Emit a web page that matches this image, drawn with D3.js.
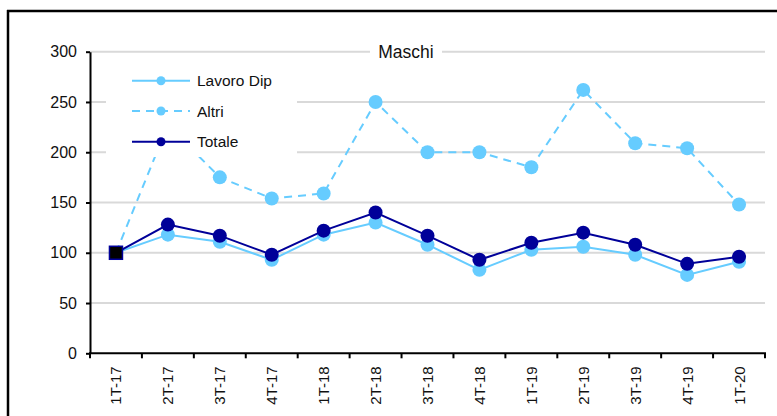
<!DOCTYPE html>
<html>
<head>
<meta charset="utf-8">
<script src="https://cdn.jsdelivr.net/npm/d3@7/dist/d3.min.js"></script>
<style>
  html, body { margin: 0; padding: 0; background: #fff; }
  svg { display: block; font-family: "Liberation Sans", Arial, sans-serif; }
</style>
</head>
<body>
<svg id="chart" width="777" height="416"></svg>
<script>
const categories = ["1T-17","2T-17","3T-17","4T-17","1T-18","2T-18","3T-18","4T-18","1T-19","2T-19","3T-19","4T-19","1T-20"];
const lavoroDip = [100, 118, 111, 93, 118, 130, 108, 83, 103, 106, 98, 78, 91];
const altri     = [100, 227, 175, 154, 159, 250, 200, 200, 185, 262, 209, 204, 148];
const totale    = [100, 128, 117, 98, 122, 140, 117, 93, 110, 120, 108, 89, 96];
const yTicks = [0, 50, 100, 150, 200, 250, 300];
const title = "Maschi";
const legendLabels = ["Lavoro Dip", "Altri", "Totale"];

const LIGHT = "#66CCFF";
const NAVY = "#000099";

const svg = d3.select("#chart");

// frame
svg.append("line").attr("x1", 7).attr("x2", 777).attr("y1", 11).attr("y2", 11)
  .attr("stroke", "#000").attr("stroke-width", 2.5);
svg.append("line").attr("x1", 8).attr("x2", 8).attr("y1", 10).attr("y2", 416)
  .attr("stroke", "#000").attr("stroke-width", 2.5);

const x0 = 90, x1 = 765, yTop = 51.7, yBot = 353.3;
const x = d3.scalePoint().domain(categories).range([x0, x1]).padding(0.5);
const y = d3.scaleLinear().domain([0, 300]).range([yBot, yTop]);
const step = x.step();

// gridlines
svg.append("g").selectAll("line").data(yTicks.filter(d => d > 0)).join("line")
  .attr("x1", x0).attr("x2", x1)
  .attr("y1", d => y(d)).attr("y2", d => y(d))
  .attr("stroke", "#D9D9D9").attr("stroke-width", 2);

// y axis
const yAxis = d3.axisLeft(y).tickValues(yTicks).tickSize(4).tickPadding(9).tickSizeOuter(0);
const gy = svg.append("g").attr("transform", `translate(${x0},0)`).call(yAxis);
gy.select(".domain").attr("stroke", "#000").attr("stroke-width", 2);
gy.selectAll(".tick line").attr("stroke", "#000").attr("stroke-width", 2);
gy.selectAll(".tick text").attr("font-size", "16px").attr("fill", "#111")
  .attr("font-family", "Liberation Sans, Arial, sans-serif");

// x axis
const gx = svg.append("g");
gx.append("line").attr("x1", x0 - 1).attr("x2", x1 + 1).attr("y1", yBot).attr("y2", yBot)
  .attr("stroke", "#000").attr("stroke-width", 2);
const boundaries = d3.range(categories.length + 1).map(i => x0 + i * step);
gx.selectAll("line.tk").data(boundaries).join("line").attr("class", "tk")
  .attr("x1", d => d).attr("x2", d => d).attr("y1", yBot).attr("y2", yBot + 5)
  .attr("stroke", "#000").attr("stroke-width", 2);
gx.selectAll("text").data(categories).join("text")
  .attr("transform", d => `translate(${x(d) + 5.5},${yBot + 13}) rotate(-90)`)
  .attr("text-anchor", "end")
  .attr("font-size", "15px").attr("fill", "#111")
  .text(d => d);

// lines
const lineGen = vals => d3.line().x((d, i) => x(categories[i])).y(d => y(d))(vals);

svg.append("path").attr("d", lineGen(altri)).attr("fill", "none")
  .attr("stroke", LIGHT).attr("stroke-width", 2).attr("stroke-dasharray", "8,6");
svg.append("g").selectAll("circle").data(altri.slice(1)).join("circle")
  .attr("cx", (d, i) => x(categories[i + 1])).attr("cy", d => y(d)).attr("r", 7)
  .attr("fill", LIGHT);

svg.append("path").attr("d", lineGen(lavoroDip)).attr("fill", "none")
  .attr("stroke", LIGHT).attr("stroke-width", 2);
svg.append("g").selectAll("circle").data(lavoroDip.slice(1)).join("circle")
  .attr("cx", (d, i) => x(categories[i + 1])).attr("cy", d => y(d)).attr("r", 7)
  .attr("fill", LIGHT);

svg.append("path").attr("d", lineGen(totale)).attr("fill", "none")
  .attr("stroke", NAVY).attr("stroke-width", 2);
svg.append("g").selectAll("circle").data(totale.slice(1)).join("circle")
  .attr("cx", (d, i) => x(categories[i + 1])).attr("cy", d => y(d)).attr("r", 7)
  .attr("fill", NAVY);

// first point: square marker
svg.append("rect")
  .attr("x", x(categories[0]) - 6.5).attr("y", y(totale[0]) - 6.5)
  .attr("width", 13).attr("height", 13)
  .attr("fill", "#000").attr("stroke", NAVY).attr("stroke-width", 1.5);

// legend
const leg = svg.append("g");
leg.append("rect").attr("x", 106).attr("y", 63).attr("width", 191).attr("height", 94).attr("fill", "#fff");
const legY = [80.7, 111, 141.7];
const legColors = [LIGHT, LIGHT, NAVY];
const legDash = [null, "8,6", null];
legendLabels.forEach((lab, i) => {
  leg.append("line").attr("x1", 132).attr("x2", 190).attr("y1", legY[i]).attr("y2", legY[i])
    .attr("stroke", legColors[i]).attr("stroke-width", 2)
    .attr("stroke-dasharray", legDash[i]);
  leg.append("circle").attr("cx", 161).attr("cy", legY[i]).attr("r", 4.5).attr("fill", legColors[i]);
  leg.append("text").attr("x", 197).attr("y", legY[i]).attr("dy", "0.36em")
    .attr("font-size", "15.5px").attr("fill", "#111").text(lab);
});

// title
svg.append("rect").attr("x", 370).attr("y", 42).attr("width", 72).attr("height", 20).attr("fill", "#fff");
svg.append("text").attr("x", 406).attr("y", 52).attr("dy", "0.36em").attr("text-anchor", "middle")
  .attr("font-size", "17.5px").attr("fill", "#111").text(title);
</script>
</body>
</html>
